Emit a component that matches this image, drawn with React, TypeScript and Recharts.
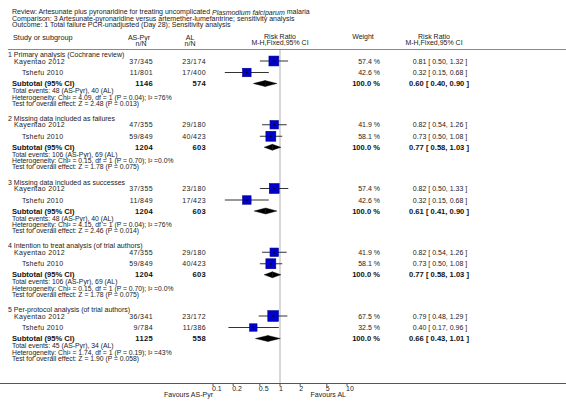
import React from 'react'
import { ScatterChart, Scatter, XAxis, YAxis, ErrorBar, ReferenceLine } from 'recharts'

const W = 566
const H = 413
const PLOT_TOP = 50
const AXIS_Y = 383
const FONT = '"Liberation Sans", Arial, sans-serif'
const INK = '#222'

// data
const groupTitles = [
  '1 Primary analysis (Cochrane review)',
  '2 Missing data included as failures',
  '3 Missing data included as successes',
  '4 Intention to treat analysis (of trial authors)',
  '5 Per-protocol analysis (of trial authors)',
]
const studyNames = ['Kayentao 2012', 'Tshefu 2010']
const pyrEvents = [
  ['37/345', '11/801'],
  ['47/355', '59/849'],
  ['37/355', '11/849'],
  ['47/355', '59/849'],
  ['36/341', '9/784'],
]
const alEvents = [
  ['23/174', '17/400'],
  ['29/180', '40/423'],
  ['23/180', '17/423'],
  ['29/180', '40/423'],
  ['23/172', '11/386'],
]
const studyWeights = [
  [57.4, 42.6],
  [41.9, 58.1],
  [57.4, 42.6],
  [41.9, 58.1],
  [67.5, 32.5],
]
const studyRR = [
  [0.81, 0.32],
  [0.82, 0.73],
  [0.82, 0.32],
  [0.82, 0.73],
  [0.79, 0.4],
]
const studyLow = [
  [0.5, 0.15],
  [0.54, 0.5],
  [0.5, 0.15],
  [0.54, 0.5],
  [0.48, 0.17],
]
const studyHigh = [
  [1.32, 0.68],
  [1.26, 1.08],
  [1.33, 0.68],
  [1.26, 1.08],
  [1.29, 0.96],
]
const subPyrN = [1146, 1204, 1204, 1204, 1125]
const subAlN = [574, 603, 603, 603, 558]
const subRR = [0.6, 0.77, 0.61, 0.77, 0.66]
const subLow = [0.4, 0.58, 0.41, 0.58, 0.43]
const subHigh = [0.9, 1.03, 0.9, 1.03, 1.01]
const eventsPyr = [48, 106, 48, 106, 45]
const eventsAl = [40, 69, 40, 69, 34]
const chi2 = ['4.09', '0.15', '4.15', '0.15', '1.74']
const hetP = ['0.04', '0.70', '0.04', '0.70', '0.19']
const i2 = ['76%', '0.0%', '76%', '0.0%', '43%']
const zVal = ['2.48', '1.78', '2.46', '1.78', '1.90']
const zP = ['0.013', '0.075', '0.014', '0.075', '0.058']
const axisTicks = [0.1, 0.2, 0.5, 1, 2, 5, 10]

// row layout (offsets below the header rule)
const GROUP_PITCH = 63.75
const ROW = { head: -6.5, study0: 0, study1: 11.5, sub: 22.5, events: 29.5, het: 36, test: 42 }
const STUDY_ROWS = [ROW.study0, ROW.study1]
const STUDY_X = [14, 22]
const rowOffset = (g: number, k: number) => 11 + GROUP_PITCH * g + k
const rowPx = (g: number, k: number) => PLOT_TOP + rowOffset(g, k)

const fmt = (v: number) => v.toFixed(2)
const ciText = (rr: number, lo: number, hi: number) => `${fmt(rr)} [ ${fmt(lo)}, ${fmt(hi)} ]`

const studyPoints = groupTitles.flatMap((_, g) =>
  studyNames.map((_n, s) => ({
    x: studyRR[g][s],
    y: rowOffset(g, STUDY_ROWS[s]),
    w: studyWeights[g][s],
    err: [studyRR[g][s] - studyLow[g][s], studyHigh[g][s] - studyRR[g][s]],
  }))
)

// eslint-disable-next-line @typescript-eslint/no-explicit-any
const Square = (props: any) => {
  const { cx, cy, payload } = props
  const s = 1.3 * Math.sqrt(payload.w)
  return (
    <g>
      <rect x={cx - s / 2} y={cy - s / 2} width={s} height={s} fill="#0000cc" stroke="#00008a" strokeWidth={0.6} />
      <line x1={cx - 1} x2={cx + 1} y1={cy} y2={cy} stroke="#000" strokeWidth={0.8} />
      <line x1={cx} x2={cx} y1={cy - 1} y2={cy + 1} stroke="#000" strokeWidth={0.8} />
    </g>
  )
}

const HALF = 3
// eslint-disable-next-line @typescript-eslint/no-explicit-any
const DiamondLeft = (p: any) => (
  <polygon
    points={`${p.x1},${p.y1} ${p.x2},${p.y2 - HALF} ${p.x2},${p.y2 + HALF}`}
    fill="#000"
    stroke="#000"
    strokeWidth={0.4}
  />
)
// eslint-disable-next-line @typescript-eslint/no-explicit-any
const DiamondRight = (p: any) => (
  <polygon
    points={`${p.x1},${p.y1 - HALF} ${p.x2},${p.y2} ${p.x1},${p.y1 + HALF}`}
    fill="#000"
    stroke="#000"
    strokeWidth={0.4}
  />
)

// eslint-disable-next-line @typescript-eslint/no-explicit-any
const AxisTick = ({ x, y, payload }: any) => (
  <text x={x - 1} y={y} dy="0.71em" fontSize={7} fontFamily={FONT} fill={INK} textAnchor="start">
    {String(payload.value)}
  </text>
)

interface TProps {
  x: number
  y: number
  anchor?: 'start' | 'middle' | 'end'
  size?: number
  bold?: boolean
  spacing?: number
  children: React.ReactNode
}

const T = ({ x, y, anchor = 'start', size = 7, bold = false, spacing = 0, children }: TProps) => (
  <text
    x={x}
    y={y}
    dominantBaseline="central"
    textAnchor={anchor}
    fontSize={size}
    fontWeight={bold ? 'bold' : 'normal'}
    letterSpacing={spacing}
    fontFamily={FONT}
    fill={bold ? '#111' : INK}
  >
    {children}
  </text>
)

export default function App() {
  return (
    <div style={{ position: 'absolute', left: 0, top: 0, width: W, height: H, background: '#fff' }}>
      <ScatterChart
        width={W}
        height={H}
        margin={{ top: PLOT_TOP, right: 219, bottom: 0, left: 213 }}
      >
        <XAxis
          type="number"
          dataKey="x"
          scale="log"
          domain={[0.1, 10]}
          ticks={axisTicks}
          allowDataOverflow
          height={H - AXIS_Y}
          axisLine={false}
          tickLine={{ stroke: '#555' }}
          tickSize={3}
          tickMargin={0}
          tick={<AxisTick />}
          interval={0}
        />
        <YAxis type="number" dataKey="y" domain={[0, AXIS_Y - PLOT_TOP]} reversed hide />
        <ReferenceLine x={1} stroke="#d8d8d8" strokeWidth={2} />
        {groupTitles.map((_, g) => (
          <ReferenceLine
            key={`dl${g}`}
            segment={[
              { x: subLow[g], y: rowOffset(g, ROW.sub) },
              { x: subRR[g], y: rowOffset(g, ROW.sub) },
            ]}
            shape={DiamondLeft}
          />
        ))}
        {groupTitles.map((_, g) => (
          <ReferenceLine
            key={`dr${g}`}
            segment={[
              { x: subRR[g], y: rowOffset(g, ROW.sub) },
              { x: subHigh[g], y: rowOffset(g, ROW.sub) },
            ]}
            shape={DiamondRight}
          />
        ))}
        <Scatter data={studyPoints} shape={Square} isAnimationActive={false}>
          <ErrorBar dataKey="err" direction="x" width={0} stroke="#333" strokeWidth={1} />
        </Scatter>
      </ScatterChart>

      <svg width={W} height={H} style={{ position: 'absolute', left: 0, top: 0, pointerEvents: 'none' }}>
        <text x={12} y={11.5} dominantBaseline="central" fontSize={7} fontFamily={FONT} fill={INK}>
          Review:  Artesunate plus pyronaridine for treating uncomplicated{' '}
          <tspan fontStyle="italic">Plasmodium falciparum</tspan> malaria
        </text>
        <T x={12} y={18}>Comparison:  3 Artesunate-pyronaridine versus artemether-lumefantrine; sensitivity analysis</T>
        <T x={12} y={24.5}>Outcome:  1 Total failure PCR-unadjusted (Day 28); Sensitivity analysis</T>

        <T x={13} y={37} size={7.3}>Study or subgroup</T>
        <T x={139} y={37} anchor="middle">AS-Pyr</T>
        <T x={141} y={43.5} anchor="middle">n/N</T>
        <T x={190} y={37} anchor="middle">AL</T>
        <T x={190} y={43.5} anchor="middle">n/N</T>
        <T x={280} y={36} anchor="middle">Risk Ratio</T>
        <T x={280} y={42.5} anchor="middle">M-H,Fixed,95% CI</T>
        <T x={363} y={36} anchor="middle">Weight</T>
        <T x={434} y={36} anchor="middle">Risk Ratio</T>
        <T x={434} y={42.5} anchor="middle">M-H,Fixed,95% CI</T>
        <line x1={8} x2={W} y1={PLOT_TOP - 0.5} y2={PLOT_TOP - 0.5} stroke="#888" strokeWidth={1.2} />

        {groupTitles.map((title, g) => (
          <g key={g}>
            <T x={8} y={rowPx(g, ROW.head)}>{title}</T>
            {studyNames.map((name, s) => (
              <g key={name}>
                <T x={STUDY_X[s]} y={rowPx(g, STUDY_ROWS[s])} spacing={0.3}>{name}</T>
                <T x={153} y={rowPx(g, STUDY_ROWS[s])} anchor="end" spacing={0.4}>{pyrEvents[g][s]}</T>
                <T x={206} y={rowPx(g, STUDY_ROWS[s])} anchor="end" spacing={0.4}>{alEvents[g][s]}</T>
                <T x={380} y={rowPx(g, STUDY_ROWS[s])} anchor="end">{`${studyWeights[g][s].toFixed(1)} %`}</T>
                <T x={440} y={rowPx(g, STUDY_ROWS[s])} anchor="middle">
                  {ciText(studyRR[g][s], studyLow[g][s], studyHigh[g][s])}
                </T>
              </g>
            ))}
            <T x={12} y={rowPx(g, ROW.sub)} size={7.6} bold>Subtotal (95% CI)</T>
            <T x={153} y={rowPx(g, ROW.sub)} anchor="end" size={7.6} bold spacing={0.3}>{String(subPyrN[g])}</T>
            <T x={206} y={rowPx(g, ROW.sub)} anchor="end" size={7.6} bold spacing={0.3}>{String(subAlN[g])}</T>
            <T x={380} y={rowPx(g, ROW.sub)} anchor="end" size={7.6} bold>100.0 %</T>
            <T x={439} y={rowPx(g, ROW.sub)} anchor="middle" size={7.6} bold>
              {ciText(subRR[g], subLow[g], subHigh[g])}
            </T>
            <T x={12} y={rowPx(g, ROW.events)} size={6.8}>{`Total events: ${eventsPyr[g]} (AS-Pyr), ${eventsAl[g]} (AL)`}</T>
            <T x={12} y={rowPx(g, ROW.het)} size={6.8}>
              {`Heterogeneity: Chi² = ${chi2[g]}, df = 1 (P = ${hetP[g]}); I² =${i2[g]}`}
            </T>
            <T x={12} y={rowPx(g, ROW.test)} size={6.8}>{`Test for overall effect: Z = ${zVal[g]} (P = ${zP[g]})`}</T>
          </g>
        ))}

        <line x1={0} x2={W} y1={AXIS_Y + 0.5} y2={AXIS_Y + 0.5} stroke="#555" strokeWidth={1} />
        <T x={213} y={394} anchor="end">Favours AS-Pyr</T>
        <T x={346} y={394} anchor="end">Favours AL</T>
      </svg>
    </div>
  )
}
